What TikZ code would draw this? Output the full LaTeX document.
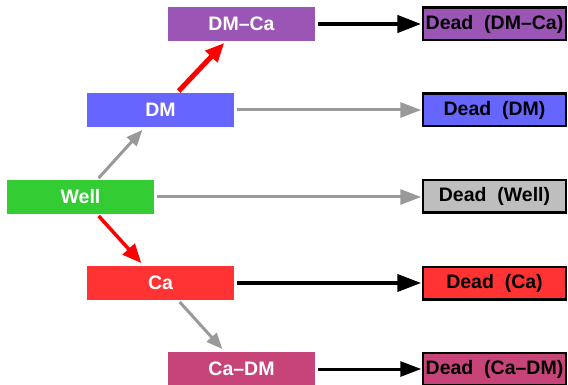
\documentclass[tikz,border=0pt]{standalone}
\usepackage{fontspec}
\setmainfont{Liberation Sans}
\usetikzlibrary{arrows.meta}
\definecolor{cPurple}{HTML}{9B55B5}
\definecolor{cBlue}{HTML}{6666FF}
\definecolor{cGreen}{HTML}{33CC33}
\definecolor{cRed}{HTML}{FF3333}
\definecolor{cRose}{HTML}{C74479}
\definecolor{cGrayBox}{HTML}{BEBEBE}
\definecolor{cGrayArr}{HTML}{999999}
\tikzset{
  src/.style={rectangle, inner sep=0pt, minimum width=147pt, minimum height=34pt,
    text=white, font=\fontsize{19.5}{21}\selectfont\bfseries},
  dead/.style={rectangle, inner sep=0pt, minimum width=143pt, minimum height=32.5pt,
    draw=black, line width=2.5pt, text=black, font=\fontsize{19.5}{21}\selectfont\bfseries},
  bigarr/.style={-{Triangle[length=24pt,width=17pt]}, shorten <=3pt, shorten >=0.5pt},
  midarr/.style={-{Triangle[length=21pt,width=15pt]}, shorten <=3pt, shorten >=0.5pt},
  darr/.style={-{Triangle[length=16pt,width=13pt]}, shorten <=1pt, shorten >=1pt},
  rarr/.style={-{Triangle[length=19pt,width=16pt]}, shorten <=1pt, shorten >=1pt},
}
\begin{document}
\begin{tikzpicture}[x=1pt,y=-1pt]
\useasboundingbox (0,0) rectangle (568,385);
% source boxes
\node[src, fill=cPurple] (dmca) at (241.5,24) {DM–Ca};
\node[src, fill=cBlue]   (dm)   at (160.5,110) {DM};
\node[src, fill=cGreen]  (well) at (80.5,197) {Well};
\node[src, fill=cRed]    (ca)   at (160.5,283) {Ca};
\node[src, fill=cRose]   (cadm) at (241.5,369) {Ca–DM};
% dead boxes
\node[dead, fill=cPurple]  (ddmca) at (494.5,24)  {Dead\ \ (DM–Ca)};
\node[dead, fill=cBlue]    (ddm)   at (494.5,110) {Dead\ \ (DM)};
\node[dead, fill=cGrayBox] (dwell) at (494.5,196.5) {Dead\ \ (Well)};
\node[dead, fill=cRed]     (dca)   at (494.5,283) {Dead\ \ (Ca)};
\node[dead, fill=cRose]    (dcadm) at (494.5,369) {Dead\ \ (Ca–DM)};
% horizontal arrows
\draw[bigarr, line width=4.5pt, black] (dmca.east) -- (ddmca.west);
\draw[midarr, line width=3pt, cGrayArr] (dm.east) -- (ddm.west);
\draw[midarr, line width=3pt, cGrayArr] (well.east) -- (dwell.west |- well.east);
\draw[bigarr, line width=4pt, black] (ca.east) -- (dca.west);
\draw[midarr, line width=3pt, black] (cadm.east) -- (dcadm.west);
% diagonal arrows
\draw[darr, line width=3pt, cGrayArr] ([xshift=17.5pt,yshift=1pt]well.north) -- ([xshift=-17.5pt,yshift=-2pt]dm.south);
\draw[rarr, line width=3.5pt, red] ([xshift=17.5pt,yshift=-1pt]well.south) -- ([xshift=-18.5pt,yshift=2pt]ca.north);
\draw[rarr, line width=5pt, red] ([xshift=17.5pt,yshift=1pt]dm.north) -- ([xshift=-16.5pt,yshift=-1pt]dmca.south);
\draw[darr, line width=3pt, cGrayArr] ([xshift=18.5pt,yshift=-1pt]ca.south) -- ([xshift=-18.5pt,yshift=2pt]cadm.north);
\end{tikzpicture}
\end{document}
